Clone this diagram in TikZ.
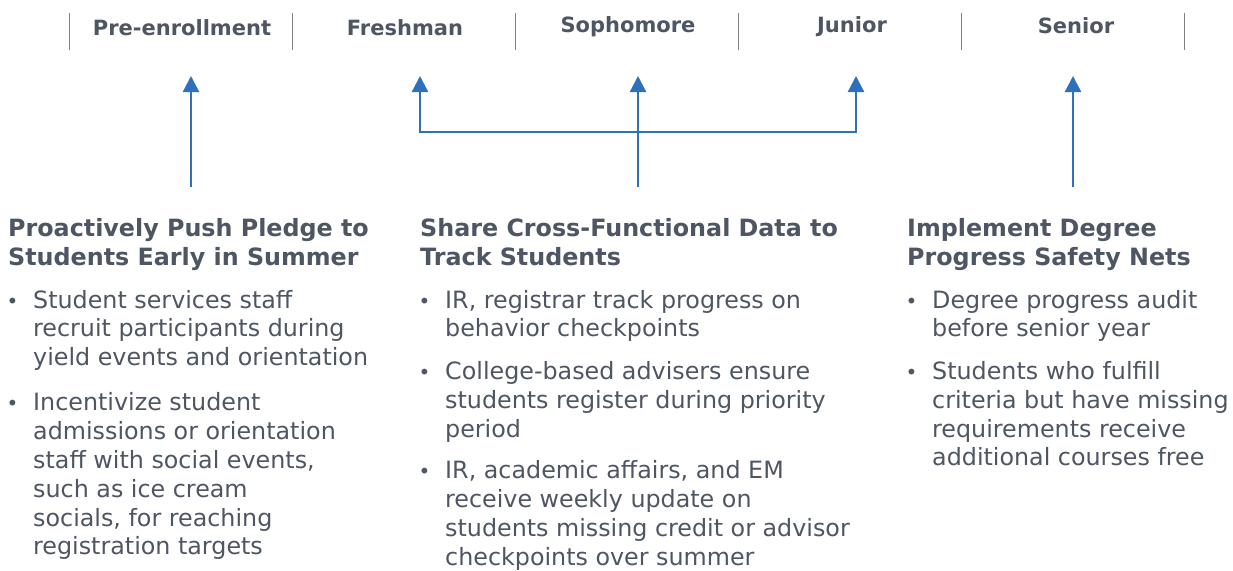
\documentclass[tikz,border=0pt]{standalone}
\usepackage{fontspec}
\setmainfont{DejaVu Sans}
\usetikzlibrary{positioning,arrows.meta}
\definecolor{slate}{RGB}{77,86,98}
\definecolor{divider}{RGB}{128,128,128}
\definecolor{flowblue}{RGB}{46,112,186}
\tikzset{
  year/.style={font=\bfseries\fontsize{21}{24}\selectfont, text=slate, anchor=base, inner sep=0pt},
  title/.style={font=\bfseries\fontsize{23.8}{28.7}\selectfont, text=slate, anchor=north west, align=left, inner sep=0pt,
    execute at begin node=\strut, execute at end node=\strut},
  point/.style={font=\fontsize{23.8}{28.8}\selectfont, text=slate, align=left, inner sep=0pt,
    execute at begin node=\strut, execute at end node=\strut},
  link/.style={flowblue, line width=2.3pt, -{Triangle[width=16pt,length=16pt]}},
  both/.style={flowblue, line width=2.3pt, {Triangle[width=16pt,length=16pt]}-{Triangle[width=16pt,length=16pt]}}
}
\newcommand\bul{\llap{\fontsize{20}{20}\selectfont\textbullet\hspace{14.8pt}}}
\begin{document}
\begin{tikzpicture}[x=1pt,y=-1pt]
\useasboundingbox (0,0) rectangle (1233,570);
\foreach \x in {69,292,515,738,961,1184} \draw[divider, line width=1pt] (\x,13) -- (\x,50);
\node[year] (pre) at (182,35) {Pre-enrollment};
\node[year] (fresh) at (405,35) {Freshman};
\node[year] (soph) at (628,32) {Sophomore};
\node[year] (jun) at (852,32) {Junior};
\node[year] (sen) at (1076,33) {Senior};

\node[title] (push) at (8,218.5) {Proactively Push Pledge to\\Students Early in Summer};
\node[point, below right=15.5pt and 25pt of push.south west] (push1) {\bul Student services staff\\recruit participants during\\yield events and orientation};
\node[point, below=18pt of push1.south west, anchor=north west] (push2) {\bul Incentivize student\\admissions or orientation\\staff with social events,\\such as ice cream\\socials, for reaching\\registration targets};

\node[title] (share) at (420,218.5) {Share Cross-Functional Data to\\Track Students};
\node[point, below right=15.5pt and 25pt of share.south west] (share1) {\bul IR, registrar track progress on\\behavior checkpoints};
\node[point, below=15.5pt of share1.south west, anchor=north west] (share2) {\bul College-based advisers ensure\\students register during priority\\period};
\node[point, below=14.5pt of share2.south west, anchor=north west] (share3) {\bul IR, academic affairs, and EM\\receive weekly update on\\students missing credit or advisor\\checkpoints over summer};

\node[title] (nets) at (907,218.5) {Implement Degree\\Progress Safety Nets};
\node[point, below right=15.5pt and 25pt of nets.south west] (nets1) {\bul Degree progress audit\\before senior year};
\node[point, below=15.5pt of nets1.south west, anchor=north west] (nets2) {\bul Students who fulfill\\criteria but have missing\\requirements receive\\additional courses free};

\coordinate (tip) at (0,76);
\coordinate (bar) at (0,132);
\coordinate (t1) at (191,187);
\coordinate (t2) at (638,187);
\coordinate (t3) at (1073,187);
\coordinate (fr) at (420,76);
\coordinate (ju) at (856,76);
\draw[link] (t1) -- (t1 |- tip);
\draw[link] (t2) -- (t2 |- tip);
\draw[link] (t3) -- (t3 |- tip);
\draw[both] (fr) |- (ju |- bar) -- (ju);
\end{tikzpicture}
\end{document}
